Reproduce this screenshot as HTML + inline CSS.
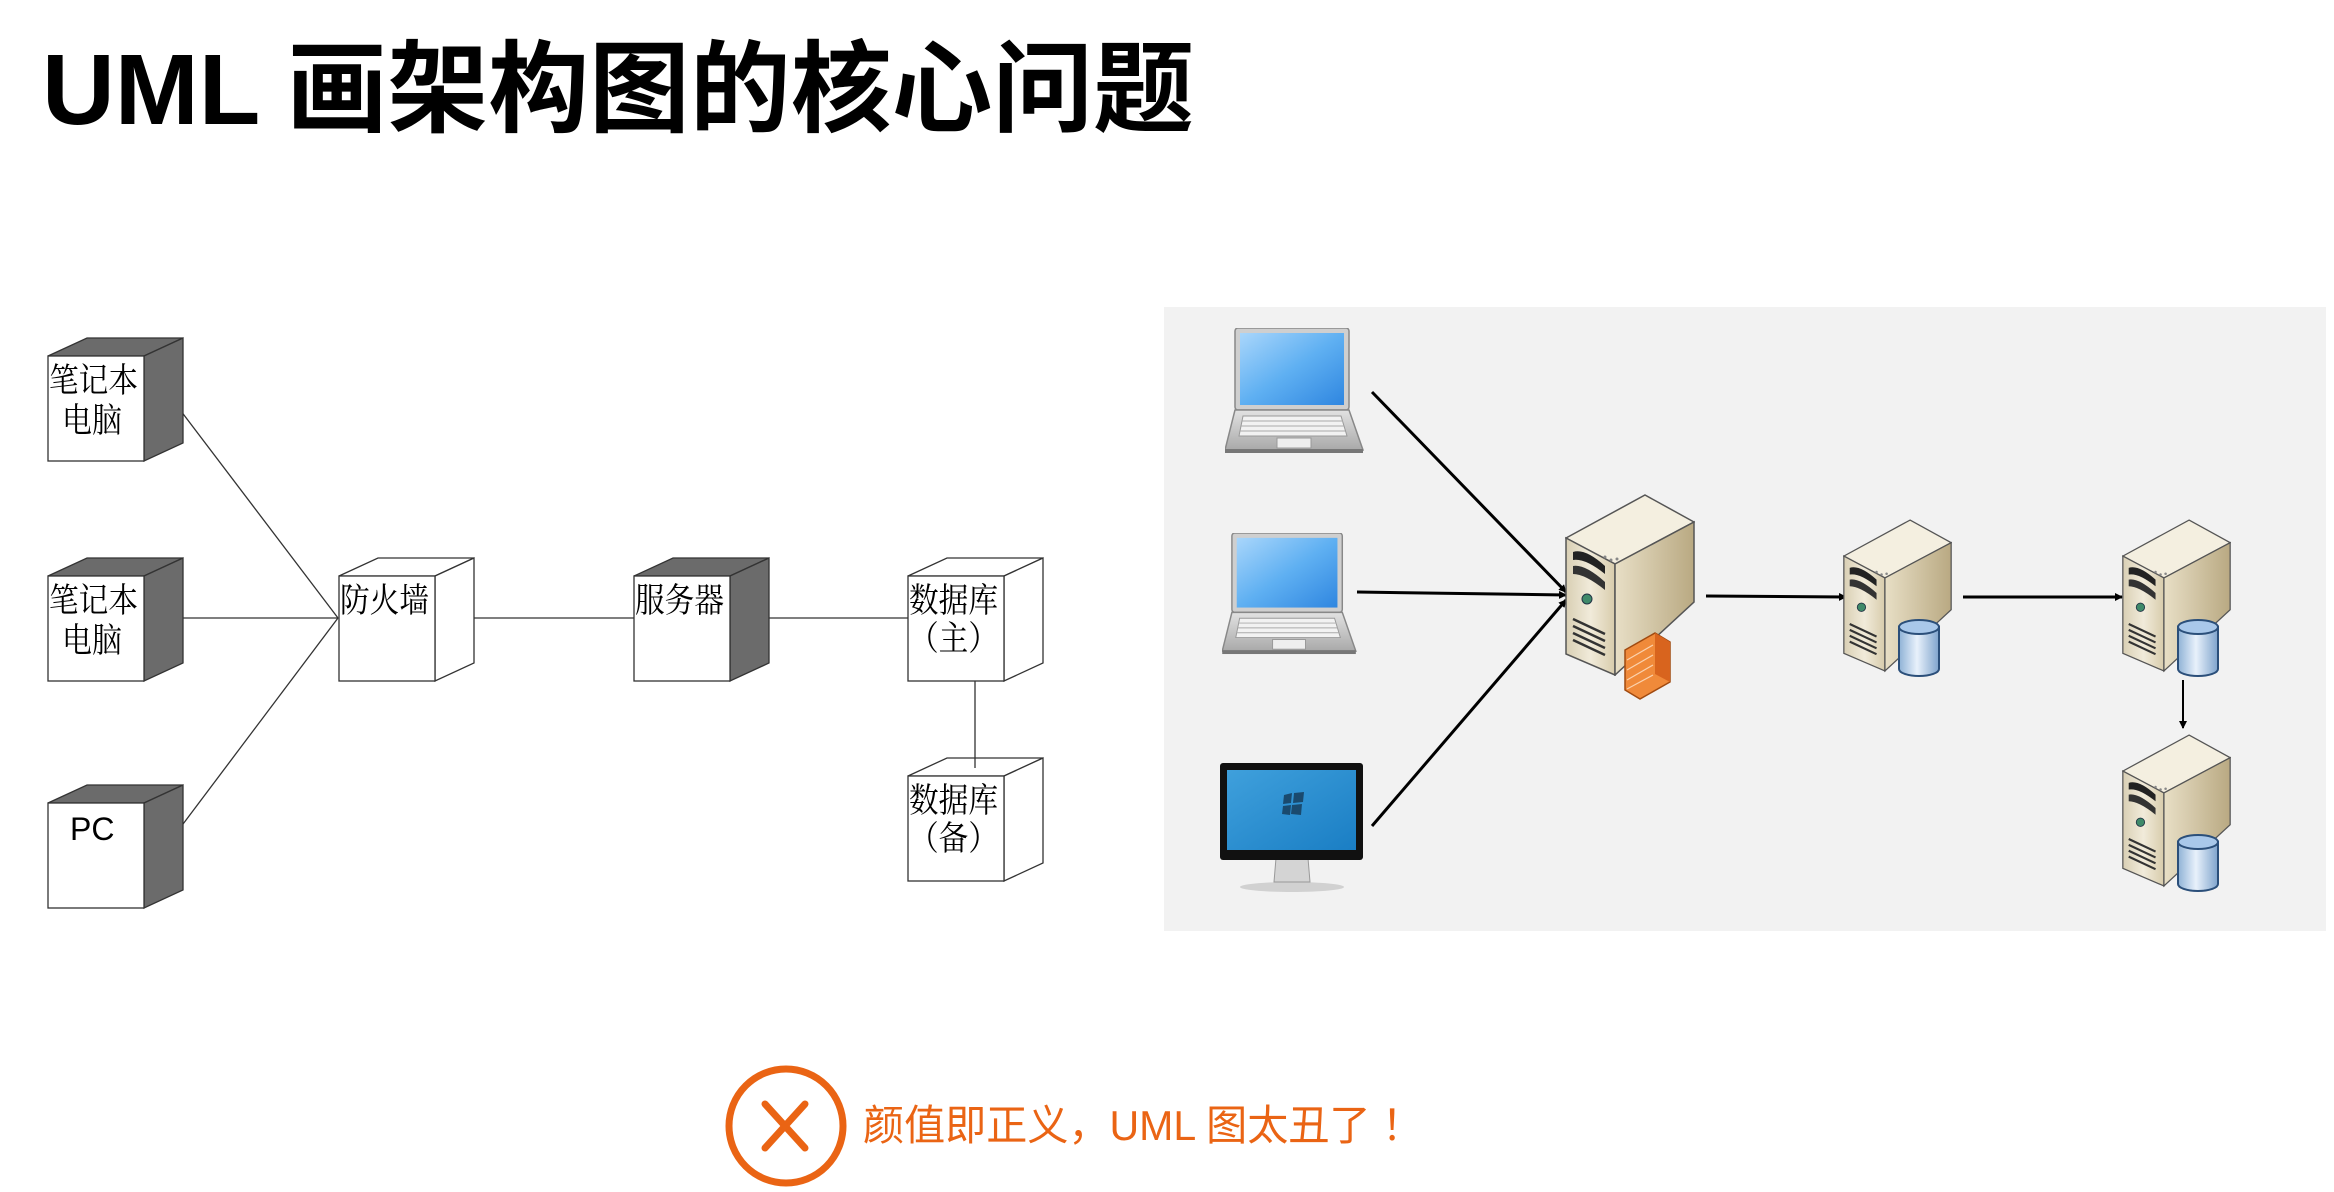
<!DOCTYPE html>
<html><head><meta charset="utf-8">
<style>
html,body{margin:0;padding:0;background:#fff;}
body{width:2334px;height:1192px;overflow:hidden;position:relative;}
svg{position:absolute;left:0;top:0;}
</style></head>
<body>
<svg width="2334" height="1192" viewBox="0 0 2334 1192" xmlns="http://www.w3.org/2000/svg">
<defs>
  <linearGradient id="beigeF" x1="0" x2="1" y1="0" y2="0">
    <stop offset="0" stop-color="#d9cfb4"/><stop offset="0.5" stop-color="#f1ebda"/><stop offset="1" stop-color="#d8ccac"/>
  </linearGradient>
  <linearGradient id="beigeR" x1="0" x2="1" y1="0" y2="0">
    <stop offset="0" stop-color="#e8dfc6"/><stop offset="1" stop-color="#b9a982"/>
  </linearGradient>
  <linearGradient id="cyl" x1="0" x2="1">
    <stop offset="0" stop-color="#8fb2d6"/><stop offset="0.45" stop-color="#e8f1fb"/><stop offset="1" stop-color="#7ea3cc"/>
  </linearGradient>
  <linearGradient id="scr" x1="0" x2="1" y1="0" y2="1">
    <stop offset="0" stop-color="#a9d6fb"/><stop offset="0.5" stop-color="#5fb0f2"/><stop offset="1" stop-color="#2f86e0"/>
  </linearGradient>
  <linearGradient id="mon" x1="0" x2="1" y1="0" y2="1">
    <stop offset="0" stop-color="#3fa0dc"/><stop offset="1" stop-color="#1a7ec4"/>
  </linearGradient>
  <linearGradient id="kb" x1="0" x2="0" y1="0" y2="1">
    <stop offset="0" stop-color="#e2e2e2"/><stop offset="1" stop-color="#a9a9a9"/>
  </linearGradient>
  <symbol id="srv" viewBox="0 0 130 182">
    <polygon points="80,1 129,28 50,70 1,44" fill="#f4efe0" stroke="#555" stroke-width="1.5"/>
    <polygon points="1,44 50,70 50,181 1,160" fill="url(#beigeF)" stroke="#555" stroke-width="1.5"/>
    <polygon points="50,70 129,28 129,108 50,181" fill="url(#beigeR)" stroke="#555" stroke-width="1.5"/>
    <path d="M8,58 Q20,54 40,72 L40,80 Q20,64 8,66 Z" fill="#222"/>
    <path d="M8,72 Q20,70 40,88 L40,96 Q20,80 8,80 Z" fill="#333"/>
    <circle cx="22" cy="105" r="5" fill="#3f8a6a" stroke="#234" stroke-width="1"/>
    <g stroke="#333" stroke-width="2.5">
      <line x1="8" y1="125" x2="40" y2="140"/><line x1="8" y1="132" x2="40" y2="147"/>
      <line x1="8" y1="139" x2="40" y2="154"/><line x1="8" y1="146" x2="40" y2="161"/>
    </g>
    <g fill="#888"><circle cx="40" cy="63" r="1.5"/><circle cx="46" cy="66" r="1.5"/><circle cx="52" cy="65" r="1.5"/></g>
  </symbol>
  <symbol id="cy" viewBox="0 0 44 58">
    <path d="M2,8 L2,50 A20,7 0 0 0 42,50 L42,8 Z" fill="url(#cyl)" stroke="#2b4f7a" stroke-width="2"/>
    <ellipse cx="22" cy="8" rx="20" ry="7" fill="#a9c8ea" stroke="#2b4f7a" stroke-width="2"/>
  </symbol>
  <symbol id="lap" viewBox="0 0 140 126">
    <rect x="10" y="0" width="114" height="82" rx="3" fill="#cfcfcf" stroke="#888" stroke-width="1.5"/>
    <rect x="15" y="5" width="104" height="72" fill="url(#scr)"/>
    <polygon points="10,82 124,82 138,122 0,122" fill="url(#kb)" stroke="#888" stroke-width="1.5"/>
    <polygon points="18,88 116,88 122,108 14,108" fill="#f2f2f2" stroke="#999" stroke-width="1"/>
    <g stroke="#aaa" stroke-width="1"><line x1="17" y1="93" x2="118" y2="93"/><line x1="16" y1="98" x2="119" y2="98"/><line x1="15" y1="103" x2="120" y2="103"/></g>
    <rect x="52" y="110" width="34" height="10" fill="#eee" stroke="#999"/>
    <rect x="0" y="121" width="138" height="4" fill="#777"/>
  </symbol>
  <marker id="ah" markerWidth="8" markerHeight="8" refX="7" refY="4" orient="auto" markerUnits="userSpaceOnUse">
    <path d="M0,0 L8,4 L0,8 Z" fill="#000"/>
  </marker>
</defs>

<text x="42" y="124" font-family="'Liberation Sans','Noto Sans CJK SC',sans-serif" font-weight="bold" font-size="100" textLength="1152" lengthAdjust="spacingAndGlyphs" fill="#000">UML 画架构图的核心问题</text>

<g stroke="#333" stroke-width="1.3" fill="none">
  <line x1="165" y1="390" x2="338" y2="618"/>
  <line x1="165" y1="618" x2="338" y2="618"/>
  <line x1="165" y1="848" x2="338" y2="618"/>
  <line x1="458" y1="618" x2="634" y2="618"/>
  <line x1="756" y1="618" x2="908" y2="618"/>
</g>

<g stroke="#333" stroke-width="1.3">
  <polygon points="48,356 87,338 183,338 144,356" fill="#6b6b6b"/>
  <polygon points="144,356 183,338 183,443 144,461" fill="#6b6b6b"/>
  <rect x="48" y="356" width="96" height="105" fill="#fff"/>
  <polygon points="48,576 87,558 183,558 144,576" fill="#6b6b6b"/>
  <polygon points="144,576 183,558 183,663 144,681" fill="#6b6b6b"/>
  <rect x="48" y="576" width="96" height="105" fill="#fff"/>
  <polygon points="48,803 87,785 183,785 144,803" fill="#6b6b6b"/>
  <polygon points="144,803 183,785 183,890 144,908" fill="#6b6b6b"/>
  <rect x="48" y="803" width="96" height="105" fill="#fff"/>
  <polygon points="339,576 378,558 474,558 435,576" fill="#fff"/>
  <polygon points="435,576 474,558 474,663 435,681" fill="#fff"/>
  <rect x="339" y="576" width="96" height="105" fill="#fff"/>
  <polygon points="634,576 673,558 769,558 730,576" fill="#6b6b6b"/>
  <polygon points="730,576 769,558 769,663 730,681" fill="#6b6b6b"/>
  <rect x="634" y="576" width="96" height="105" fill="#fff"/>
  <polygon points="908,576 947,558 1043,558 1004,576" fill="#fff"/>
  <polygon points="1004,576 1043,558 1043,663 1004,681" fill="#fff"/>
  <rect x="908" y="576" width="96" height="105" fill="#fff"/>
  <polygon points="908,776 947,758 1043,758 1004,776" fill="#fff"/>
  <polygon points="1004,776 1043,758 1043,863 1004,881" fill="#fff"/>
  <rect x="908" y="776" width="96" height="105" fill="#fff"/>
</g>
<line x1="975" y1="681" x2="975" y2="768" stroke="#333" stroke-width="1.3"/>
<g font-family="'Liberation Serif','Noto Serif CJK SC',serif" font-size="34" fill="#000" lengthAdjust="spacingAndGlyphs">
  <text x="49" y="392" textLength="89" lengthAdjust="spacingAndGlyphs">笔记本</text><text x="62" y="432" textLength="60" lengthAdjust="spacingAndGlyphs">电脑</text>
  <text x="49" y="612" textLength="89" lengthAdjust="spacingAndGlyphs">笔记本</text><text x="62" y="652" textLength="60" lengthAdjust="spacingAndGlyphs">电脑</text>
  <text x="340" y="612" textLength="89" lengthAdjust="spacingAndGlyphs">防火墙</text>
  <text x="635" y="612" textLength="89" lengthAdjust="spacingAndGlyphs">服务器</text>
  <text x="909" y="612" textLength="89" lengthAdjust="spacingAndGlyphs">数据库</text><text x="909" y="650" textLength="89" lengthAdjust="spacingAndGlyphs">（主）</text>
  <text x="909" y="812" textLength="89" lengthAdjust="spacingAndGlyphs">数据库</text><text x="909" y="850" textLength="89" lengthAdjust="spacingAndGlyphs">（备）</text>
</g>
<text x="70" y="840" font-family="'Liberation Sans',sans-serif" font-size="32" fill="#000">PC</text>

<rect x="1164" y="307" width="1162" height="624" fill="#f2f2f2"/>

<use href="#lap" x="1225" y="328" width="140" height="126"/>
<use href="#lap" x="1222" y="533" width="136" height="122"/>

<ellipse cx="1292" cy="887" rx="52" ry="5" fill="#bbb" opacity="0.6"/>
<polygon points="1276,858 1308,858 1310,882 1274,882" fill="#d4d4d4" stroke="#999"/>
<rect x="1220" y="763" width="143" height="97" rx="3" fill="#111"/>
<rect x="1227" y="770" width="129" height="80" fill="url(#mon)"/>
<path d="M1284,795 l8,-2 l-1,10 l-8,1 Z M1294,793 l10,-1 l-1,10 l-10,1 Z M1283,806 l8,-1 l-1,10 l-8,-1 Z M1292,805 l10,-1 l-1,11 l-10,-1 Z" fill="#1a4a6e"/>

<g stroke="#000" stroke-width="3" fill="none">
  <line x1="1372" y1="392" x2="1566" y2="592" marker-end="url(#ah)"/>
  <line x1="1357" y1="592" x2="1566" y2="595" marker-end="url(#ah)"/>
  <line x1="1372" y1="826" x2="1566" y2="600" marker-end="url(#ah)"/>
  <line x1="1706" y1="596" x2="1846" y2="597" marker-end="url(#ah)"/>
  <line x1="1963" y1="597" x2="2122" y2="597" marker-end="url(#ah)"/>
  <line x1="2183" y1="680" x2="2183" y2="728" stroke-width="2" marker-end="url(#ah)"/>
</g>

<use href="#srv" x="1565" y="494" width="130" height="182"/>
<g>
  <polygon points="1625,650 1655,633 1670,642 1670,682 1640,699 1625,690" fill="#f08a3a" stroke="#a04a10" stroke-width="1.5"/>
  <polygon points="1655,633 1670,642 1670,682 1655,674" fill="#d8641e"/>
  <g stroke="#fbd2ae" stroke-width="1.2">
    <line x1="1627" y1="660" x2="1653" y2="645"/><line x1="1627" y1="670" x2="1653" y2="655"/>
    <line x1="1627" y1="680" x2="1653" y2="665"/><line x1="1627" y1="689" x2="1653" y2="675"/>
  </g>
</g>
<use href="#srv" x="1843" y="514" width="109" height="163"/>
<use href="#cy" x="1897" y="619" width="44" height="58"/>
<use href="#srv" x="2122" y="514" width="109" height="163"/>
<use href="#cy" x="2176" y="619" width="44" height="58"/>
<use href="#srv" x="2122" y="729" width="109" height="163"/>
<use href="#cy" x="2176" y="834" width="44" height="58"/>

<ellipse cx="786" cy="1126" rx="57" ry="57" fill="none" stroke="#ea6414" stroke-width="7"/>
<g stroke="#ea6414" stroke-width="7" stroke-linecap="round">
  <line x1="765" y1="1104" x2="805" y2="1148"/><line x1="805" y1="1104" x2="765" y2="1148"/>
</g>
<text x="863" y="1140" font-family="'Liberation Sans','Noto Sans CJK SC',sans-serif" font-size="42" textLength="560" lengthAdjust="spacingAndGlyphs" fill="#ea6414">颜值即正义，UML 图太丑了 ！</text>
</svg>
</body></html>
